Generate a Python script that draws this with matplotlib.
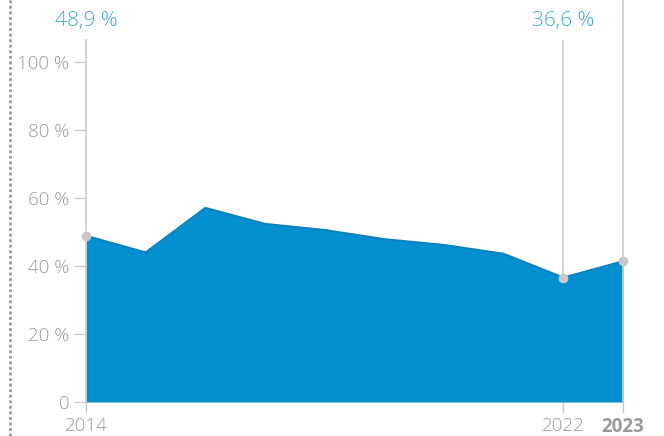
import matplotlib.pyplot as plt
from matplotlib.lines import Line2D

years = [2014, 2015, 2016, 2017, 2018, 2019, 2020, 2021, 2022, 2023]
share = [48.9, 44.0, 57.1, 52.4, 50.6, 47.9, 46.2, 43.6, 36.6, 41.4]
y_ticks = [0, 20, 40, 60, 80, 100]
y_labels = ["0", "20 %", "40 %", "60 %", "80 %", "100 %"]
x_ticks = [2014, 2022, 2023]
highlight = {2014: "48,9 %", 2022: "36,6 %"}

FILL = "#008fcf"
EDGE = "#0a80bd"
GREY = "#9a9a9a"
LINE = "#cccccc"
LABEL_BLUE = "#3aa9dd"

plt.rcParams["font.family"] = ["Open Sans", "DejaVu Sans"]

fig = plt.figure(figsize=(6.64, 4.36), dpi=100)
ax = fig.add_axes([86 / 664, 34 / 436, 537 / 664, 362 / 436])

ax.fill_between(years, share, 0, color=FILL, lw=0, zorder=2)
ax.plot(years, share, color=EDGE, lw=1.5, zorder=3)

# reference lines
ax.vlines(2022, 0, 120, color=LINE, lw=1.2, zorder=1)
ax.plot([2014, 2022, 2023], [share[0], share[8], share[9]], "o",
        color="#c8c8c8", ms=6, zorder=4, clip_on=False)

# 2023 line extends to top of figure
fig.add_artist(Line2D([623 / 664, 623 / 664], [34 / 436, 1], color=LINE, lw=1.2))
# dotted separator on the left
fig.add_artist(Line2D([10 / 664, 10 / 664], [0, 1], color="#999999", lw=2,
                      ls=(0, (1, 1))))

for yr, txt in highlight.items():
    ax.annotate(txt, xy=(yr, 0), xycoords=("data", "figure fraction"),
                xytext=(0, 415), textcoords="offset pixels",
                ha="center", va="center", color=LABEL_BLUE, fontsize=15,
                fontweight="light")

ax.set_xlim(2014, 2023)
ax.set_ylim(0, 106.5)
ax.set_yticks(y_ticks)
ax.set_yticklabels(y_labels)
ax.set_xticks(x_ticks)
ax.set_xticklabels([str(x) for x in x_ticks])
for lab in ax.get_yticklabels() + ax.get_xticklabels():
    lab.set_fontweight("light")
for lab in ax.get_xticklabels():
    if lab.get_text() == "2023":
        lab.set_fontweight("bold")
        lab.set_color("#666666")

ax.tick_params(axis="y", length=9, width=1, color=LINE, labelcolor=GREY,
               labelsize=13.5, pad=3)
ax.tick_params(axis="x", length=8, width=1, color=LINE, labelcolor=GREY,
               labelsize=13.5, pad=3)

for s in ["top", "right", "bottom"]:
    ax.spines[s].set_visible(False)
ax.spines["left"].set_color(LINE)
ax.spines["left"].set_linewidth(1.2)

fig.savefig("out.png", dpi=100)
